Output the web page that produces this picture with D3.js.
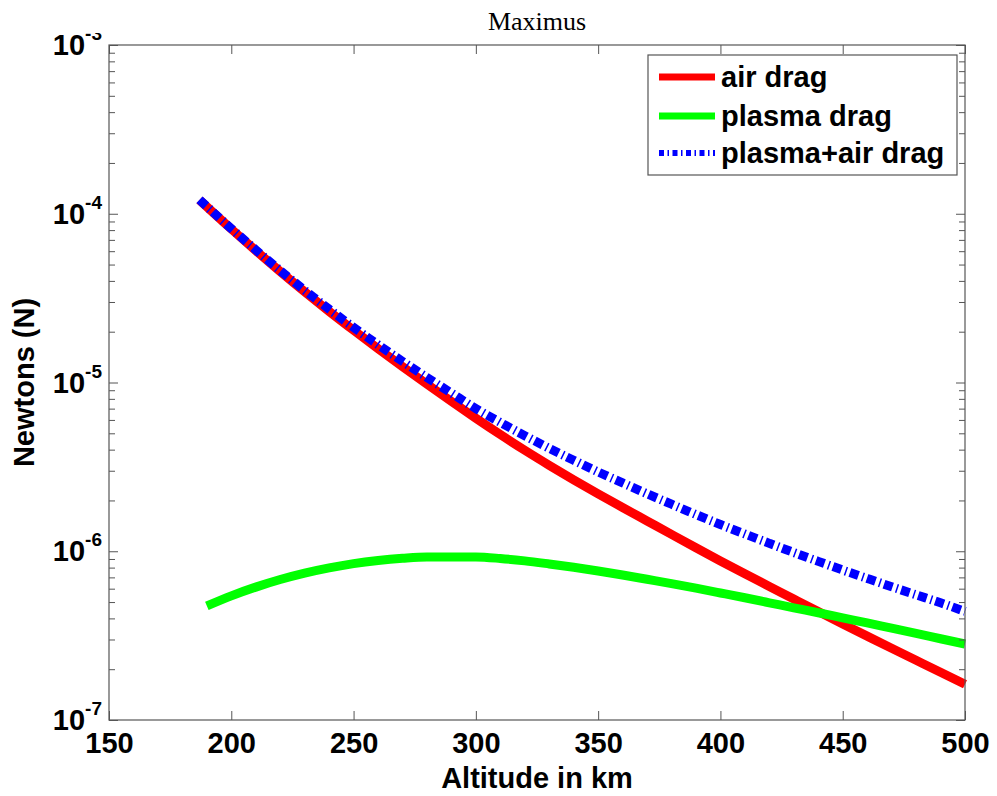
<!DOCTYPE html>
<html>
<head>
<meta charset="utf-8">
<script src="https://cdn.jsdelivr.net/npm/d3@7"></script>
<style>
  html, body { margin: 0; padding: 0; background: #fff; }
  svg { display: block; }
</style>
</head>
<body>
<svg id="chart" width="997" height="796"></svg>
<script>
// ---- data ----
const altitudes = [187, 200, 210, 220, 230, 240, 250, 260, 270, 280, 290, 300, 310, 320, 330, 340, 350,
                   360, 370, 380, 390, 400, 410, 420, 430, 440, 450, 460, 470, 480, 490, 500];
const airDrag = [1.206e-4, 8.12e-5, 6.05e-5, 4.545e-5, 3.447e-5, 2.64e-5, 2.04e-5, 1.587e-5, 1.243e-5, 9.78e-6,
                 7.73e-6, 6.14e-6, 4.914e-6, 3.967e-6, 3.232e-6, 2.652e-6, 2.19e-6, 1.817e-6, 1.512e-6, 1.258e-6,
                 1.048e-6, 8.76e-7, 7.35e-7, 6.19e-7, 5.21e-7, 4.39e-7, 3.71e-7, 3.14e-7, 2.66e-7, 2.26e-7,
                 1.92e-7, 1.63e-7];
const plasmaAltitudes = [190, 200, 210, 220, 230, 240, 250, 260, 270, 280, 290, 300, 310, 320, 330, 340, 350,
                         360, 370, 380, 390, 400, 410, 420, 430, 440, 450, 460, 470, 480, 490, 500];
const plasmaDrag = [4.74e-7, 5.44e-7, 6.13e-7, 6.80e-7, 7.42e-7, 7.97e-7, 8.45e-7, 8.82e-7, 9.09e-7, 9.26e-7,
                    9.26e-7, 9.25e-7, 9.06e-7, 8.77e-7, 8.41e-7, 8.04e-7, 7.64e-7, 7.23e-7, 6.82e-7, 6.43e-7,
                    6.04e-7, 5.66e-7, 5.30e-7, 4.95e-7, 4.62e-7, 4.32e-7, 4.03e-7, 3.76e-7, 3.50e-7, 3.26e-7,
                    3.03e-7, 2.82e-7];
const totalDrag = [1.21e-4, 8.17e-5, 6.11e-5, 4.61e-5, 3.52e-5, 2.72e-5, 2.12e-5, 1.675e-5, 1.334e-5, 1.071e-5,
                   8.66e-6, 7.0e-6, 5.8e-6, 4.84e-6, 4.07e-6, 3.46e-6, 2.95e-6, 2.54e-6, 2.19e-6, 1.90e-6,
                   1.65e-6, 1.44e-6, 1.265e-6, 1.114e-6, 9.83e-7, 8.71e-7, 7.74e-7, 6.90e-7, 6.16e-7, 5.52e-7,
                   4.95e-7, 4.40e-7];
const xTicks = [150, 200, 250, 300, 350, 400, 450, 500];
const yTicks = [1e-7, 1e-6, 1e-5, 1e-4, 1e-3];
const yTickExponents = ["-7", "-6", "-5", "-4", "-3"];
const seriesNames = ["air drag", "plasma drag", "plasma+air drag"];
const seriesColors = ["#ff0000", "#00ff00", "#0000ff"];
const titleText = "Maximus";
const xLabel = "Altitude in km";
const yLabel = "Newtons (N)";

// ---- layout ----
const L = 109, R = 965, T = 45, B = 720;
const svg = d3.select("#chart");
const x = d3.scaleLinear().domain([150, 500]).range([L, R]);
const y = d3.scaleLog().domain([1e-7, 1e-3]).range([B, T]);
const axisColor = "#555";
const font = "'Liberation Sans', Arial, Helvetica, sans-serif";
const fs = 29;

// minor ticks values
const minorTicks = [];
for (let e = -7; e < -3; e++) for (let m = 2; m <= 9; m++) minorTicks.push(m * Math.pow(10, e));

// ---- curves ----
const plot = svg.append("g");
const line = d3.line().x(d => x(d[0])).y(d => y(d[1])).curve(d3.curveMonotoneX);
const airData = altitudes.map((a, i) => [a, airDrag[i]]);
const plasmaData = plasmaAltitudes.map((a, i) => [a, plasmaDrag[i]]);
const totalData = altitudes.map((a, i) => [a, totalDrag[i]]);

plot.append("path").attr("d", line(airData)).attr("fill", "none")
  .attr("stroke", seriesColors[0]).attr("stroke-width", 9);
plot.append("path").attr("d", line(plasmaData)).attr("fill", "none")
  .attr("stroke", seriesColors[1]).attr("stroke-width", 9);
plot.append("path").attr("d", line(totalData)).attr("fill", "none")
  .attr("stroke", seriesColors[2]).attr("stroke-width", 9)
  .attr("stroke-dasharray", "9,4,1.5,3.5");

// ---- axes ----
function styleAxis(g) {
  g.selectAll(".domain").remove();
  g.selectAll(".tick line").attr("stroke", axisColor).attr("stroke-width", 1);
}
// bottom
const gB = svg.append("g").attr("transform", `translate(0,${B})`)
  .call(d3.axisBottom(x).tickValues(xTicks).tickSizeInner(-9).tickSizeOuter(0).tickPadding(12).tickFormat(d3.format("d")));
styleAxis(gB);
gB.selectAll("text").attr("font-family", font).attr("font-size", fs).attr("font-weight", "bold").attr("fill", "#000");
// top
const gT = svg.append("g").attr("transform", `translate(0,${T})`)
  .call(d3.axisTop(x).tickValues(xTicks).tickSizeInner(-9).tickSizeOuter(0).tickFormat(""));
styleAxis(gT);
// left
const gL = svg.append("g").attr("transform", `translate(${L},0)`)
  .call(d3.axisLeft(y).tickValues(yTicks).tickSizeInner(-9).tickSizeOuter(0).tickFormat(""));
styleAxis(gL);
const gLm = svg.append("g").attr("transform", `translate(${L},0)`)
  .call(d3.axisLeft(y).tickValues(minorTicks).tickSizeInner(-6).tickSizeOuter(0).tickFormat(""));
styleAxis(gLm);
// right
const gR = svg.append("g").attr("transform", `translate(${R},0)`)
  .call(d3.axisRight(y).tickValues(yTicks).tickSizeInner(-9).tickSizeOuter(0).tickFormat(""));
styleAxis(gR);
const gRm = svg.append("g").attr("transform", `translate(${R},0)`)
  .call(d3.axisRight(y).tickValues(minorTicks).tickSizeInner(-6).tickSizeOuter(0).tickFormat(""));
styleAxis(gRm);

// frame
svg.append("rect").attr("x", L).attr("y", T).attr("width", R - L).attr("height", B - T)
  .attr("fill", "none").attr("stroke", axisColor).attr("stroke-width", 1.2);

// y tick labels 10^n
const yl = svg.append("g");
yTicks.forEach((v, i) => {
  const t = yl.append("text").attr("x", L - 7).attr("y", y(v) + 10)
    .attr("text-anchor", "end").attr("font-family", font).attr("font-weight", "bold").attr("fill", "#000");
  t.append("tspan").attr("font-size", fs).text("10");
  t.append("tspan").attr("font-size", 19).attr("dy", -15).text(yTickExponents[i]);
});

// white band at top (clips the top exponent like the reference)
svg.append("rect").attr("x", 0).attr("y", 0).attr("width", 997).attr("height", 33).attr("fill", "#fff");

// title
svg.append("text").attr("x", (L + R) / 2).attr("y", 30).attr("text-anchor", "middle")
  .attr("font-family", "'Liberation Serif', 'Times New Roman', serif").attr("font-size", 26)
  .attr("fill", "#000").text(titleText);

// axis labels
svg.append("text").attr("x", (L + R) / 2).attr("y", 788).attr("text-anchor", "middle")
  .attr("font-family", font).attr("font-size", fs).attr("font-weight", "bold").attr("fill", "#000").text(xLabel);
svg.append("text").attr("transform", `translate(34,${(T + B) / 2}) rotate(-90)`).attr("text-anchor", "middle")
  .attr("font-family", font).attr("font-size", fs).attr("font-weight", "bold").attr("fill", "#000").text(yLabel);

// legend
const lg = svg.append("g");
lg.append("rect").attr("x", 648).attr("y", 55).attr("width", 309).attr("height", 120)
  .attr("fill", "#fff").attr("stroke", axisColor).attr("stroke-width", 1.2);
const rowsY = [77, 116, 153];
seriesNames.forEach((name, i) => {
  const ln = lg.append("line").attr("x1", 659).attr("x2", 715).attr("y1", rowsY[i]).attr("y2", rowsY[i])
    .attr("stroke", seriesColors[i]).attr("stroke-width", i === 2 ? 6 : 7);
  if (i === 2) ln.attr("stroke-dasharray", "5,3.5,1.5,3.5");
  lg.append("text").attr("x", 721).attr("y", rowsY[i] + 10).attr("font-family", font)
    .attr("font-size", fs).attr("font-weight", "bold").attr("fill", "#000").text(name);
});
</script>
</body>
</html>
